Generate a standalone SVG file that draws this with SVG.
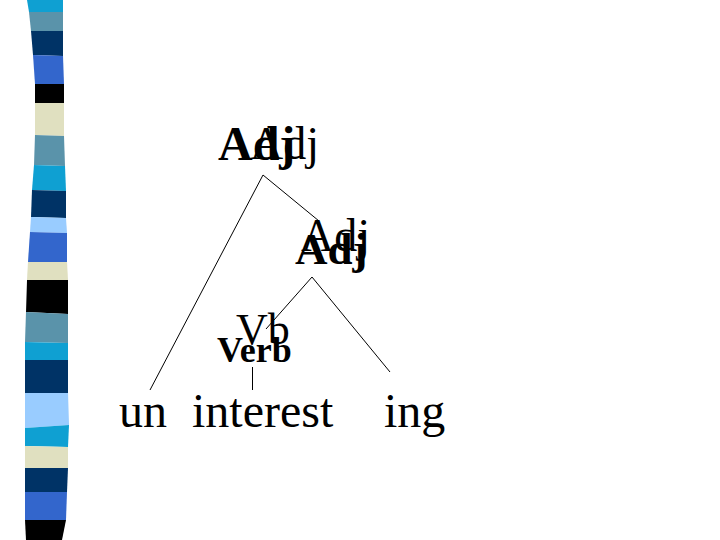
<svg xmlns="http://www.w3.org/2000/svg" width="720" height="540" viewBox="0 0 720 540">
<style>
.r{font-family:"Liberation Serif","Times New Roman",serif;fill:#000}
.b{font-family:"Liberation Serif","Times New Roman",serif;font-weight:bold;fill:#000}
.ln{stroke:#000;stroke-width:1;fill:none}
</style>
<rect width="720" height="540" fill="#fff"/>
<g id="stripe">
<polygon points="27,0 63,0 63,12 29,12" fill="#0fa0d2"/>
<polygon points="29,12 63,12 63,31 31,31" fill="#5a93aa"/>
<polygon points="31,31 63,31 63,56 33,55" fill="#003366"/>
<polygon points="33,55 63,56 64,84 35,84" fill="#3366cc"/>
<polygon points="35,84 64,84 64,103 35,103" fill="#000"/>
<polygon points="35,103 64,103 64,136 35,135" fill="#e0e0c0"/>
<polygon points="35,135 64,136 65,166 34,165" fill="#5a93aa"/>
<polygon points="34,165 65,166 66,191 32,190" fill="#0fa0d2"/>
<polygon points="32,190 66,191 66,218 31,217" fill="#003366"/>
<polygon points="31,217 66,218 67,233 30,232" fill="#99ccff"/>
<polygon points="30,232 67,233 67,262 28,262" fill="#3366cc"/>
<polygon points="28,262 67,262 68,280 27,280" fill="#e0e0c0"/>
<polygon points="27,280 68,280 68,314 26,312" fill="#000"/>
<polygon points="26,312 68,314 68,343 25,342" fill="#5a93aa"/>
<polygon points="25,342 68,343 68,360 25,360" fill="#0fa0d2"/>
<polygon points="25,360 68,360 68,393 25,393" fill="#003366"/>
<polygon points="25,393 68,393 69,425 25,428" fill="#99ccff"/>
<polygon points="25,428 69,425 68,447 25,446" fill="#0fa0d2"/>
<polygon points="25,446 68,447 68,468 25,468" fill="#e0e0c0"/>
<polygon points="25,468 68,468 67,492 25,492" fill="#003366"/>
<polygon points="25,492 67,492 66,520 25,520" fill="#3366cc"/>
<polygon points="25,520 66,520 62,540 26,540" fill="#000"/>
</g>
<g id="connectors">
<line class="ln" x1="263" y1="175" x2="150" y2="390"/>
<line class="ln" x1="263" y1="175" x2="319" y2="221"/>
<line class="ln" x1="312" y1="277" x2="266" y2="329"/>
<line class="ln" x1="312" y1="277" x2="390" y2="372"/>
<line class="ln" x1="252.5" y1="367" x2="252.5" y2="390"/>
</g>
<g id="node-adj-top">
<text class="b" x="218" y="160" font-size="48">Adj</text>
<text class="r" x="250" y="159" font-size="46">Adj</text>
</g>
<g id="node-adj-mid">
<text class="r" x="301" y="251" font-size="46">Adj</text>
<text class="b" x="295" y="264" font-size="45">Adj</text>
</g>
<g id="node-verb">
<text class="r" x="236" y="344" font-size="44">Vb</text>
<text class="b" x="217" y="362" font-size="36">Verb</text>
</g>
<g id="leaves">
<text class="r" x="119" y="427" font-size="48">un</text>
<text class="r" x="192" y="427" font-size="48">interest</text>
<text class="r" x="384" y="427" font-size="48">ing</text>
</g>
</svg>
